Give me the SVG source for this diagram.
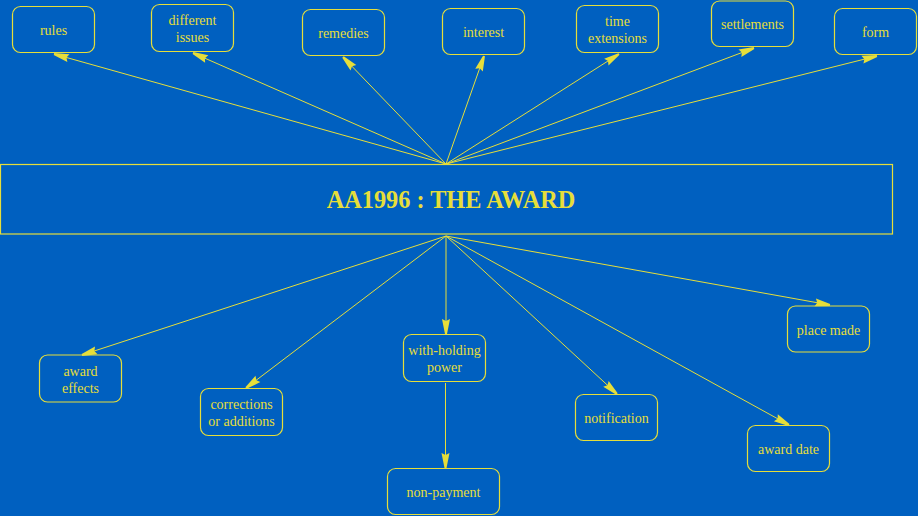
<svg xmlns="http://www.w3.org/2000/svg" width="918" height="516" viewBox="0 0 918 516">
<defs>
<style>
.node rect{fill:none;stroke:#E6DE3A;stroke-width:1.2}
.node text{fill:#E6DE3A;font-family:"Liberation Serif","Times New Roman",serif;font-size:14px;text-anchor:middle}
.edges line{stroke:#E6DE3A;stroke-width:1;marker-end:url(#ah)}
</style>
<marker id="ah" markerUnits="userSpaceOnUse" markerWidth="18" markerHeight="10" refX="16" refY="5" orient="auto" viewBox="0 0 18 10">
<path d="M1,1 L16,4 L16,6 L1,9 L3,5 Z" fill="#E6DE3A"/>
</marker>
</defs>
<rect width="918" height="516" fill="#0060C0"/>
<g class="edges">
<line x1="446" y1="164" x2="54" y2="54"/>
<line x1="446" y1="164" x2="193" y2="53"/>
<line x1="446" y1="164" x2="343" y2="57"/>
<line x1="446" y1="164" x2="484" y2="56"/>
<line x1="446" y1="164" x2="619" y2="54"/>
<line x1="446" y1="164" x2="754" y2="48"/>
<line x1="446" y1="164" x2="877" y2="56"/>
<line x1="446" y1="236" x2="82" y2="355"/>
<line x1="446" y1="236" x2="246" y2="388"/>
<line x1="446" y1="236" x2="446" y2="334"/>
<line x1="446" y1="236" x2="617" y2="394"/>
<line x1="446" y1="236" x2="789" y2="425"/>
<line x1="446" y1="236" x2="830" y2="305"/>
<line x1="445.5" y1="383" x2="445.5" y2="468"/>
</g>
<g id="main" class="node">
<rect x="0.5" y="164.5" width="892" height="69.5"/>
<text x="451" y="208" style="font-size:24.3px;font-weight:bold">AA1996 : THE AWARD</text>
</g>
<g id="rules" class="node"><rect x="12.5" y="6.5" width="82" height="46" rx="8"/><text x="53.5" y="35">rules</text></g>
<g id="different-issues" class="node"><rect x="151.5" y="4.5" width="82" height="47" rx="8"/><text x="192.5" y="25">different</text><text x="192.5" y="42">issues</text></g>
<g id="remedies" class="node"><rect x="302.5" y="9.5" width="82" height="46" rx="8"/><text x="343.5" y="38">remedies</text></g>
<g id="interest" class="node"><rect x="442.5" y="8.5" width="82" height="46" rx="8"/><text x="483.5" y="37">interest</text></g>
<g id="time-extensions" class="node"><rect x="576.5" y="5.5" width="82" height="47" rx="8"/><text x="617.5" y="25.5">time</text><text x="617.5" y="42.5">extensions</text></g>
<g id="settlements" class="node"><rect x="711.5" y="1" width="82" height="45.5" rx="8"/><text x="752.5" y="29">settlements</text></g>
<g id="form" class="node"><rect x="834.5" y="8.5" width="82" height="46" rx="8"/><text x="875.5" y="37">form</text></g>
<g id="award-effects" class="node"><rect x="39.5" y="355" width="82" height="47" rx="8"/><text x="80.5" y="376">award</text><text x="80.5" y="393">effects</text></g>
<g id="corrections" class="node"><rect x="200.5" y="388.5" width="82" height="47" rx="8"/><text x="241.5" y="409">corrections</text><text x="241.5" y="425.5">or additions</text></g>
<g id="with-holding" class="node"><rect x="403.5" y="334.5" width="82" height="47" rx="8"/><text x="444.5" y="355">with-holding</text><text x="444.5" y="372">power</text></g>
<g id="non-payment" class="node"><rect x="387.5" y="468.5" width="112" height="46" rx="8"/><text x="443.5" y="497">non-payment</text></g>
<g id="notification" class="node"><rect x="575.5" y="394.5" width="82" height="46" rx="8"/><text x="616.5" y="423">notification</text></g>
<g id="award-date" class="node"><rect x="747.5" y="425.5" width="82" height="46" rx="8"/><text x="788.5" y="453.5">award date</text></g>
<g id="place-made" class="node"><rect x="787.5" y="306" width="82" height="46" rx="8"/><text x="828.5" y="335">place made</text></g>
</svg>
